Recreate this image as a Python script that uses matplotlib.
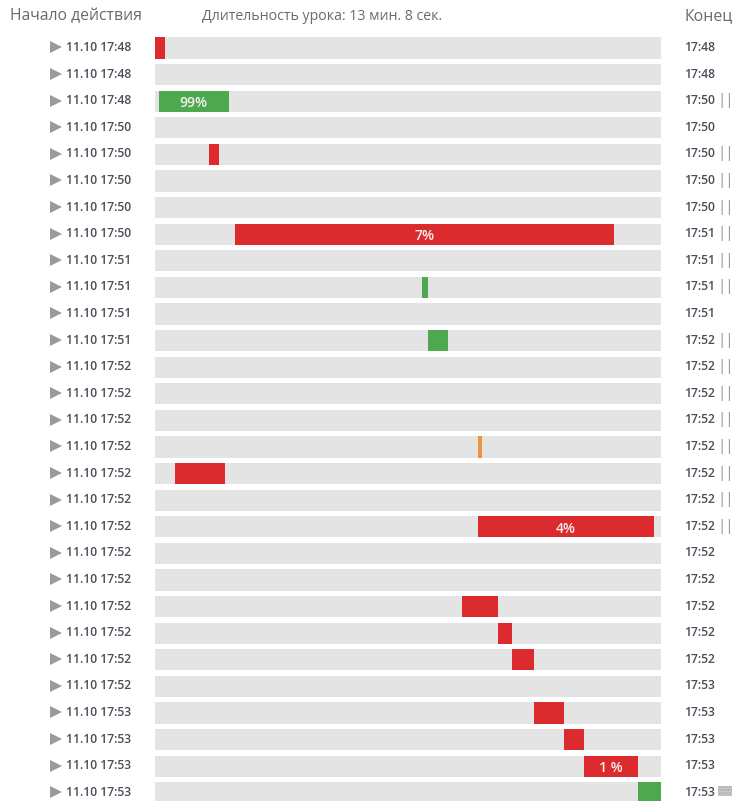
#!/usr/bin/env python3
"""
Lesson timeline: one grey track per action, coloured blocks show when it was active.
"""

import matplotlib
matplotlib.use('Agg')
import matplotlib.pyplot as plt
from matplotlib.patches import Rectangle
from matplotlib.transforms import blended_transform_factory

FIG_W, FIG_H = 734, 801

start_times = ['17:48', '17:48', '17:48', '17:50', '17:50', '17:50', '17:50', '17:50',
               '17:51', '17:51', '17:51', '17:51', '17:52', '17:52', '17:52', '17:52',
               '17:52', '17:52', '17:52', '17:52', '17:52', '17:52', '17:52', '17:52',
               '17:52', '17:53', '17:53', '17:53', '17:53']
end_times = ['17:48', '17:48', '17:50', '17:50', '17:50', '17:50', '17:50', '17:51',
             '17:51', '17:51', '17:51', '17:52', '17:52', '17:52', '17:52', '17:52',
             '17:52', '17:52', '17:52', '17:52', '17:52', '17:52', '17:52', '17:52',
             '17:53', '17:53', '17:53', '17:53', '17:53']
paused = [0, 0, 1, 0, 1, 1, 1, 1, 1, 1, 0, 1, 1, 1, 1, 1, 1, 1, 1, 0, 0, 0, 0, 0, 0, 0, 0, 0, 0]

# blocks on the tracks, times in seconds from the lesson start
block_rows = [0, 2, 4, 7, 9, 11, 15, 16, 18, 21, 22, 23, 25, 26, 27, 28]
block_start = [0, 6, 84, 125, 416, 425, 503, 31, 503, 478, 534, 556, 590, 637, 668, 752]
block_end = [16, 115, 100, 715, 425, 456, 509, 109, 777, 534, 556, 590, 637, 668, 752, 788]
block_kind = ['red', 'green', 'red', 'red', 'green', 'green', 'orange', 'red', 'red',
              'red', 'red', 'red', 'red', 'red', 'red', 'green']
block_text = ['', '99%', '', '7%', '', '', '', '', '4%', '', '', '', '', '', '1 %', '']
lesson_seconds = 788

colors = {'red': '#dc2b2e', 'green': '#4ea84f', 'orange': '#f0933f'}
TRACK = '#e4e4e4'
TEXT = '#474e58'
HEADER = '#6a6a6a'
FONT = 'Open Sans'

plt.rcParams['font.family'] = [FONT, 'DejaVu Sans']

fig = plt.figure(figsize=(FIG_W / 100, FIG_H / 100), dpi=100, facecolor='white')
ax = fig.add_axes([155 / FIG_W, 0, (661 - 155) / FIG_W, 1])

# rows are 26.6 px apart, first one centred at y=48 px
row_px = 26.6
n_rows = len(start_times)
ax.set_xlim(0, lesson_seconds)
ax.set_ylim((FIG_H - 48) / row_px, -48 / row_px)
ax.axis('off')

ax.barh(range(n_rows), [lesson_seconds] * n_rows, height=0.8, color=TRACK, linewidth=0, zorder=1)

for row, x0, x1, kind, label in zip(block_rows, block_start, block_end, block_kind, block_text):
    ax.barh(row, x1 - x0, left=x0, height=0.8, color=colors[kind], linewidth=0, zorder=2)
    if label:
        ax.text((x0 + x1) / 2, row + 0.08, label, color='#f4eeee', fontsize=10,
                fontweight='semibold', ha='center', va='center', zorder=3)

# x in figure pixels (through a fraction), y in row numbers
side = blended_transform_factory(fig.transFigure, ax.transData)

for row in range(n_rows):
    text_y = row - 0.02
    ax.plot(56 / FIG_W, text_y, marker='>', markersize=9, color='#9a9a9a', markeredgewidth=0,
            transform=side, clip_on=False, zorder=3)
    ax.text(66 / FIG_W, text_y, '11.10 ' + start_times[row], color=TEXT, fontsize=8.7,
            fontweight='semibold', ha='left', va='center', transform=side, clip_on=False)
    ax.text(684 / FIG_W, text_y, end_times[row], color=TEXT, fontsize=8.7,
            fontweight='semibold', ha='left', va='center', transform=side, clip_on=False)
    if paused[row]:
        ax.text(717.5 / FIG_W, text_y, '||', color='#909090', fontsize=11,
                ha='left', va='center', transform=side, clip_on=False)

# small hatched icon on the last row
ax.add_patch(Rectangle((718 / FIG_W, n_rows - 1 - 0.25), 14 / FIG_W, 0.38, transform=side,
                       facecolor='#c8c8c8', edgecolor='#a8a8a8', hatch='.....', linewidth=0,
                       clip_on=False))

# headers
fig.text(10 / FIG_W, 1 - 16 / FIG_H, 'Начало действия', color=HEADER, fontsize=11.3,
         ha='left', va='center')
fig.text(202 / FIG_W, 1 - 16 / FIG_H, 'Длительность урока: 13 мин. 8 сек.', color=HEADER,
         fontsize=10.2, ha='left', va='center')
fig.text(684 / FIG_W, 1 - 16 / FIG_H, 'Конец', color=HEADER, fontsize=11.4, ha='left', va='center')

fig.savefig('out.png', dpi=100, facecolor='white')
